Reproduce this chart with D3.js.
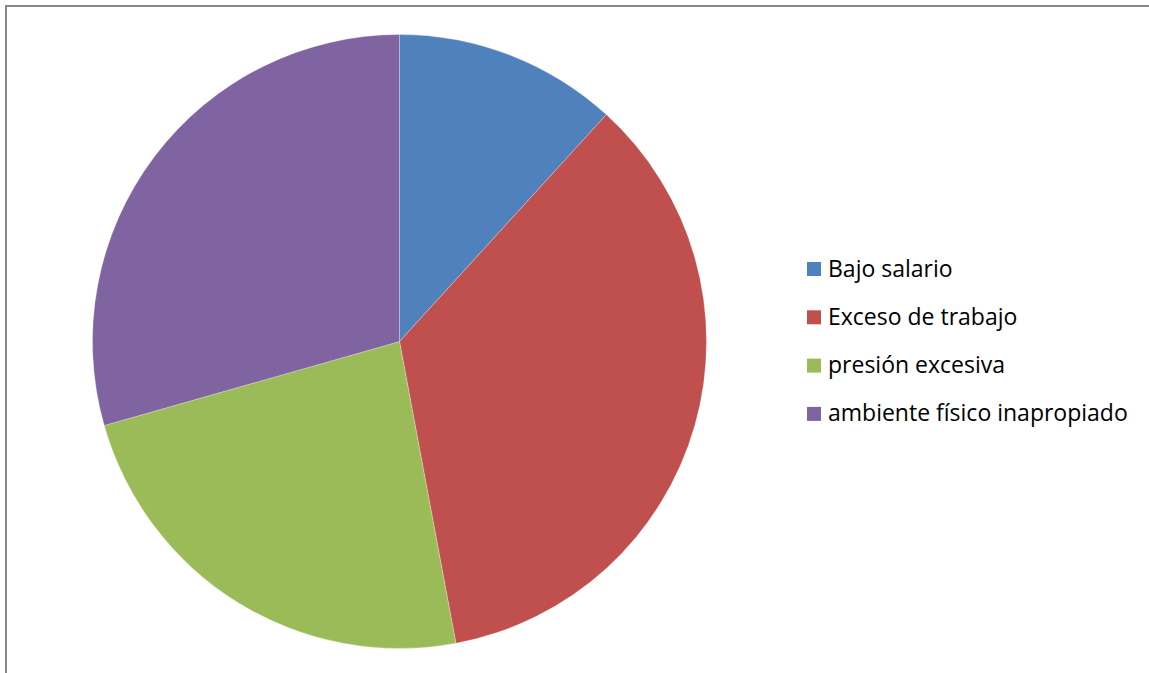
<!DOCTYPE html>
<html>
<head>
<meta charset="utf-8">
<script src="https://cdn.jsdelivr.net/npm/d3@7"></script>
<style>
  html, body { margin: 0; padding: 0; background: #fff; }
  svg { display: block; }
</style>
</head>
<body>
<svg id="chart" width="1149" height="673"></svg>
<script>
// Causes of work stress (counts)
const categories = ["Bajo salario", "Exceso de trabajo", "presión excesiva", "ambiente físico inapropiado"];
const values = [4, 12, 8, 10];
const colors = ["#4F81BD", "#C0504D", "#9BBB59", "#8064A2"];

const W = 1149, H = 673;
const svg = d3.select("#chart");

// chart area frame (open to the right and bottom)
svg.append("rect")
  .attr("x", 6).attr("y", 6)
  .attr("width", W + 10).attr("height", H + 10)
  .attr("fill", "#fff")
  .attr("stroke", "#878787")
  .attr("stroke-width", 2);

const cx = 399.5, cy = 341.5, r = 307;

const pie = d3.pie().sort(null).value(d => d.v);
const arc = d3.arc().innerRadius(0).outerRadius(r);
const data = categories.map((c, i) => ({ c, v: values[i], col: colors[i] }));

svg.append("g")
  .attr("transform", `translate(${cx},${cy})`)
  .selectAll("path")
  .data(pie(data))
  .join("path")
  .attr("d", arc)
  .attr("fill", d => d.data.col)
  .attr("stroke", "rgba(255,255,255,0.35)")
  .attr("stroke-width", 0.75);

// legend
const legend = svg.append("g").attr("transform", "translate(807,262)");
const rowH = 48.3;
const items = legend.selectAll("g")
  .data(data)
  .join("g")
  .attr("transform", (d, i) => `translate(0,${i * rowH})`);

items.append("rect")
  .attr("width", 14).attr("height", 14)
  .attr("fill", d => d.col);

const labels = items.append("text")
  .attr("x", 21).attr("y", 14.5)
  .attr("font-family", "'Open Sans', 'Liberation Sans', sans-serif")
  .attr("font-size", 20)
  .attr("fill", "#000")
  .text(d => d.c);

// fit the longest entry to its legend width
const longest = labels.nodes()[3];
const w = longest.getComputedTextLength();
const fs = 20 * 300 / w;
labels.attr("font-size", fs);
</script>
</body>
</html>
